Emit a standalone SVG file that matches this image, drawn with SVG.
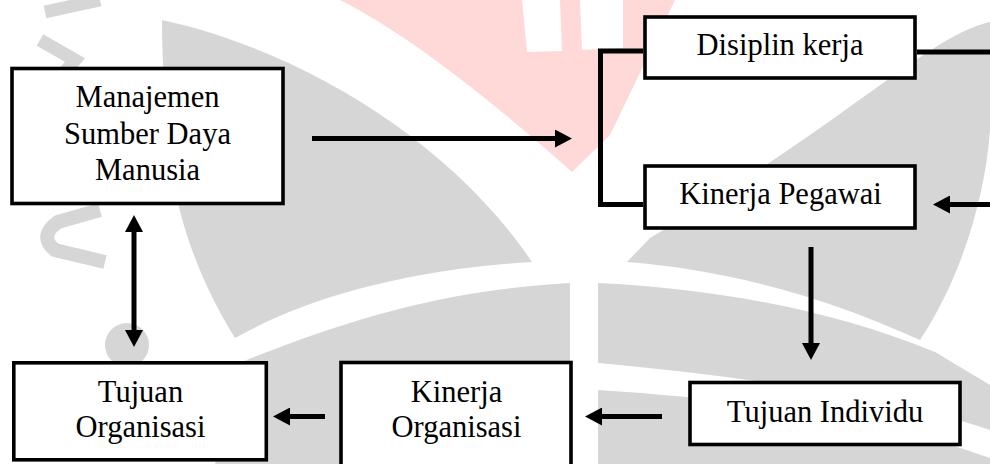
<svg xmlns="http://www.w3.org/2000/svg" width="990" height="464" viewBox="0 0 990 464">
  <defs>
    <style>
      .wm { fill: #d6d6d6; }
      .wp { fill: #ffd8d8; }
      .box { fill: #ffffff; stroke: #000000; stroke-width: 3.6; }
      .lbl { font-family: "Liberation Serif", "Times New Roman", serif; font-size: 30.5px; fill: #000000; text-anchor: middle; }
      .con { fill: none; stroke: #000000; stroke-width: 5; }
    </style>
    <marker id="ah" markerUnits="userSpaceOnUse" markerWidth="17" markerHeight="18" refX="0" refY="9" orient="auto-start-reverse" viewBox="0 0 17 18">
      <path d="M0,0 L17,9 L0,18 Z" fill="#000000"/>
    </marker>
  </defs>
  <rect width="990" height="464" fill="#ffffff"/>

  <g id="watermark">
    <path class="wm" d="M162,20 C300,50 450,140 532,262 C430,268 320,290 235,338 C205,290 180,230 172,170 C166,120 162,70 162,20 Z"/>
    <path class="wm" d="M570,283 C480,288 380,305 242,362 L215,464 L570,464 Z"/>
    <path class="wm" d="M990,22 C930,35 850,120 650,238 L627,262 C700,268 800,285 920,340 C960,280 985,200 990,130 Z"/>
    <path class="wm" d="M598,283 C700,288 820,305 935,352 L990,385 L990,430 C900,400 760,378 598,363 Z"/>
    <path class="wm" d="M598,390 C760,400 900,425 990,458 L990,464 L598,464 Z"/>
    <circle class="wm" cx="127" cy="345" r="22"/>
    <path d="M100,210 L58,222 Q38,236 55,250 L105,262" fill="none" stroke="#d6d6d6" stroke-width="14"/>
    <path d="M45,12 L100,0 M40,40 L75,60 L45,95" fill="none" stroke="#d6d6d6" stroke-width="13"/>
    <path class="wp" d="M340,0 C400,30 480,90 572,172 L610,135 L675,0 Z"/>
    <path d="M522,0 L560,0 L562,51 L527,52 Z M580,0 L623,0 L623,48 L582,50 Z" fill="#ffffff"/>
  </g>

  <g id="connectors">
    <path class="con" d="M643,51 H600.5 V204.5 H643"/>
    <path class="con" d="M917,52 H990"/>
    <path class="con" d="M990,204.5 H950" marker-end="url(#ah)"/>
    <path class="con" stroke-width="6" d="M312,138.5 H555" marker-end="url(#ah)"/>
    <path class="con" d="M811,247 V343" marker-end="url(#ah)"/>
    <path class="con" stroke-width="6" d="M662,416.5 H602" marker-end="url(#ah)"/>
    <path class="con" stroke-width="6" d="M325,416.5 H290" marker-end="url(#ah)"/>
    <path class="con" d="M134,232 V330" marker-start="url(#ah)" marker-end="url(#ah)"/>
  </g>

  <g id="node-msdm">
    <rect class="box" x="12" y="68.5" width="271" height="135"/>
    <text class="lbl" x="147.5" y="107">Manajemen</text>
    <text class="lbl" x="147.5" y="144">Sumber Daya</text>
    <text class="lbl" x="147.5" y="180">Manusia</text>
  </g>
  <g id="node-disiplin">
    <rect class="box" x="645" y="17" width="270" height="61"/>
    <text class="lbl" x="780" y="55">Disiplin kerja</text>
  </g>
  <g id="node-kinerja-pegawai">
    <rect class="box" x="645" y="166" width="270" height="62"/>
    <text class="lbl" x="780.5" y="204">Kinerja Pegawai</text>
  </g>
  <g id="node-tujuan-individu">
    <rect class="box" x="690" y="382.5" width="270" height="62"/>
    <text class="lbl" x="825" y="421.5">Tujuan Individu</text>
  </g>
  <g id="node-kinerja-organisasi">
    <rect class="box" x="341" y="362.5" width="230" height="130"/>
    <text class="lbl" x="456.5" y="401.5">Kinerja</text>
    <text class="lbl" x="456.5" y="436.5">Organisasi</text>
  </g>
  <g id="node-tujuan-organisasi">
    <rect class="box" x="13.8" y="362.8" width="252.5" height="97"/>
    <text class="lbl" x="140.5" y="401.5">Tujuan</text>
    <text class="lbl" x="140.5" y="436.5">Organisasi</text>
  </g>
</svg>
